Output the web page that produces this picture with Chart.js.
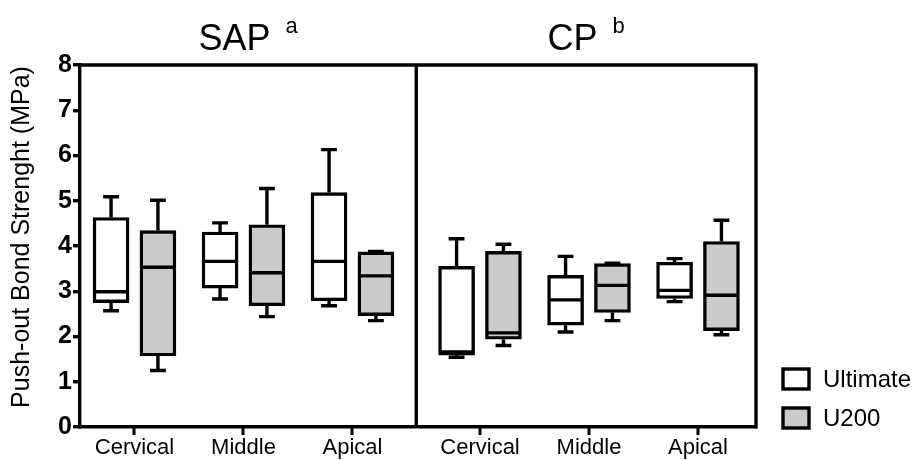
<!DOCTYPE html>
<html>
<head>
<meta charset="utf-8">
<script src="https://cdn.jsdelivr.net/npm/chart.js@4.4.1/dist/chart.umd.min.js"></script>
<style>
  html, body { margin: 0; padding: 0; background: #fff; }
  #wrap { width: 915px; height: 460px; position: relative; }
</style>
</head>
<body>
<div id="wrap"><canvas id="boxChart" width="915" height="460"></canvas></div>
<script>
// Categories and panels
const categories = ['Cervical', 'Middle', 'Apical'];
const panelNames = ['SAP', 'CP'];
const panelMarks = ['a', 'b'];
const seriesNames = ['Ultimate', 'U200'];
const yTicks = [0, 1, 2, 3, 4, 5, 6, 7, 8];
const yTitle = 'Push-out Bond Strenght (MPa)';

// Box values, order: SAP Cervical, Middle, Apical, CP Cervical, Middle, Apical
const ultimateMin    = [2.57, 2.83, 2.68, 1.54, 2.10, 2.77];
const ultimateQ1     = [2.75, 3.07, 2.79, 1.59, 2.25, 2.84];
const ultimateMedian = [2.99, 3.66, 3.66, 1.66, 2.81, 3.02];
const ultimateQ3     = [4.63, 4.31, 5.18, 3.55, 3.35, 3.64];
const ultimateMax    = [5.09, 4.51, 6.13, 4.16, 3.77, 3.72];

const u200Min    = [1.25, 2.44, 2.35, 1.80, 2.35, 2.04];
const u200Q1     = [1.57, 2.68, 2.46, 1.94, 2.53, 2.13];
const u200Median = [3.53, 3.41, 3.34, 2.08, 3.13, 2.91];
const u200Q3     = [4.34, 4.47, 3.87, 3.88, 3.61, 4.10];
const u200Max    = [5.01, 5.27, 3.88, 4.04, 3.62, 4.57];

const FONT = "'Liberation Sans', Arial, Helvetica, sans-serif";
const LW = 3.4;
const panelGap = 0.17;
const boxOffset = 0.215;

// x position of each category slot on the linear axis
const slotPos = [];
panelNames.forEach((p, pi) => {
  categories.forEach((c, ci) => slotPos.push(pi * (categories.length + panelGap) + ci));
});
const dividerPos = (slotPos[categories.length - 1] + slotPos[categories.length]) / 2;

const series = [
  { name: seriesNames[0], fill: '#ffffff', shift: -boxOffset,
    min: ultimateMin, q1: ultimateQ1, med: ultimateMedian, q3: ultimateQ3, max: ultimateMax },
  { name: seriesNames[1], fill: '#cbcbcb', shift: boxOffset,
    min: u200Min, q1: u200Q1, med: u200Median, q3: u200Q3, max: u200Max }
];

const boxPlugin = {
  id: 'boxExtras',
  afterDatasetsDraw(chart) {
    const ctx = chart.ctx;
    const y = chart.scales.y;
    const x = chart.scales.x;
    const area = chart.chartArea;
    ctx.save();
    ctx.strokeStyle = '#000';
    ctx.lineWidth = LW;
    ctx.lineCap = 'butt';

    // whiskers and medians
    chart.data.datasets.forEach((ds, di) => {
      const s = series[di];
      chart.getDatasetMeta(di).data.forEach((bar, k) => {
        const half = bar.width / 2 - 1.5;
        const cap = bar.width * 0.22;
        const pMin = y.getPixelForValue(s.min[k]);
        const pQ1 = y.getPixelForValue(s.q1[k]);
        const pMed = y.getPixelForValue(s.med[k]);
        const pQ3 = y.getPixelForValue(s.q3[k]);
        const pMax = y.getPixelForValue(s.max[k]);
        ctx.beginPath();
        ctx.moveTo(bar.x - half, pMed); ctx.lineTo(bar.x + half, pMed);
        ctx.moveTo(bar.x, pQ3); ctx.lineTo(bar.x, pMax);
        ctx.moveTo(bar.x - cap, pMax); ctx.lineTo(bar.x + cap, pMax);
        ctx.moveTo(bar.x, pQ1); ctx.lineTo(bar.x, pMin);
        ctx.moveTo(bar.x - cap, pMin); ctx.lineTo(bar.x + cap, pMin);
        ctx.stroke();
      });
    });

    // frame: top, right, divider
    const divX = x.getPixelForValue(dividerPos);
    ctx.beginPath();
    ctx.moveTo(area.left, area.top); ctx.lineTo(area.right, area.top);
    ctx.moveTo(area.right, area.top - 1.5); ctx.lineTo(area.right, area.bottom + 1.5);
    ctx.moveTo(divX, area.top); ctx.lineTo(divX, area.bottom);
    ctx.stroke();

    // panel titles with superscript letters
    ctx.fillStyle = '#000';
    ctx.textBaseline = 'alphabetic';
    const centers = [(area.left + divX) / 2, (divX + area.right) / 2];
    panelNames.forEach((name, pi) => {
      ctx.font = '36px ' + FONT;
      const w1 = ctx.measureText(name).width;
      ctx.font = '22px ' + FONT;
      const w2 = ctx.measureText(panelMarks[pi]).width;
      const gap = 15;
      const start = centers[pi] - (w1 + gap + w2) / 2;
      ctx.font = '36px ' + FONT;
      ctx.textAlign = 'left';
      ctx.fillText(name, start, 50);
      ctx.font = '22px ' + FONT;
      ctx.fillText(panelMarks[pi], start + w1 + gap, 33);
    });

    // y axis title
    ctx.save();
    ctx.translate(22, 237);
    ctx.rotate(-Math.PI / 2);
    ctx.font = '25px ' + FONT;
    ctx.textAlign = 'center';
    ctx.textBaseline = 'middle';
    ctx.fillText(yTitle, 0, 0);
    ctx.restore();

    // legend
    chart.data.datasets.forEach((ds, di) => {
      const top = 369 + di * 39;
      ctx.fillStyle = ds.backgroundColor;
      ctx.fillRect(783, top, 26, 20);
      ctx.strokeRect(783, top, 26, 20);
      ctx.fillStyle = '#000';
      ctx.font = '24px ' + FONT;
      ctx.textAlign = 'left';
      ctx.textBaseline = 'middle';
      ctx.fillText(ds.label, 823, top + 11);
    });
    ctx.restore();
  },
  afterDraw(chart) {
    // category tick marks under the x axis
    const ctx = chart.ctx;
    const x = chart.scales.x;
    const bottom = chart.chartArea.bottom;
    ctx.save();
    ctx.fillStyle = '#000';
    slotPos.forEach(v => {
      const px = Math.round(x.getPixelForValue(v));
      ctx.fillRect(px - 1.5, bottom, 3, 8);
    });
    ctx.restore();
  }
};

new Chart(document.getElementById('boxChart'), {
  type: 'bar',
  data: {
    datasets: series.map(s => ({
      label: s.name,
      data: slotPos.map((p, k) => ({ x: p + s.shift, y: [s.q1[k], s.q3[k]] })),
      backgroundColor: s.fill,
      borderColor: '#000',
      borderWidth: LW,
      borderSkipped: false,
      grouped: false,
      barThickness: 36
    }))
  },
  options: {
    responsive: false,
    animation: false,
    layout: { padding: { left: 0, right: 159, top: 65, bottom: 0 } },
    plugins: {
      legend: { display: false },
      tooltip: { enabled: false },
      title: { display: false }
    },
    scales: {
      x: {
        type: 'linear',
        offset: false,
        min: -0.5,
        max: slotPos[slotPos.length - 1] + 0.532,
        afterBuildTicks: scale => { scale.ticks = slotPos.map(v => ({ value: v })); },
        afterFit: scale => { scale.height = 33; },
        ticks: {
          autoSkip: false,
          maxRotation: 0,
          padding: 2,
          color: '#000',
          font: { family: FONT, size: 22 },
          callback: (v, i) => categories[i % categories.length]
        },
        grid: { display: false, drawTicks: true, tickLength: 6 },
        border: { display: true, color: '#000', width: LW }
      },
      y: {
        min: yTicks[0],
        max: yTicks[yTicks.length - 1],
        afterBuildTicks: scale => { scale.ticks = yTicks.map(v => ({ value: v })); },
        afterFit: scale => { scale.width = 80; },
        ticks: {
          padding: 1,
          color: '#000',
          font: { family: FONT, size: 25, weight: 'bold' }
        },
        grid: { display: true, drawOnChartArea: false, drawTicks: true, tickLength: 7, lineWidth: LW, color: '#000' },
        border: { display: true, color: '#000', width: LW }
      }
    }
  },
  plugins: [boxPlugin]
});
</script>
</body>
</html>
